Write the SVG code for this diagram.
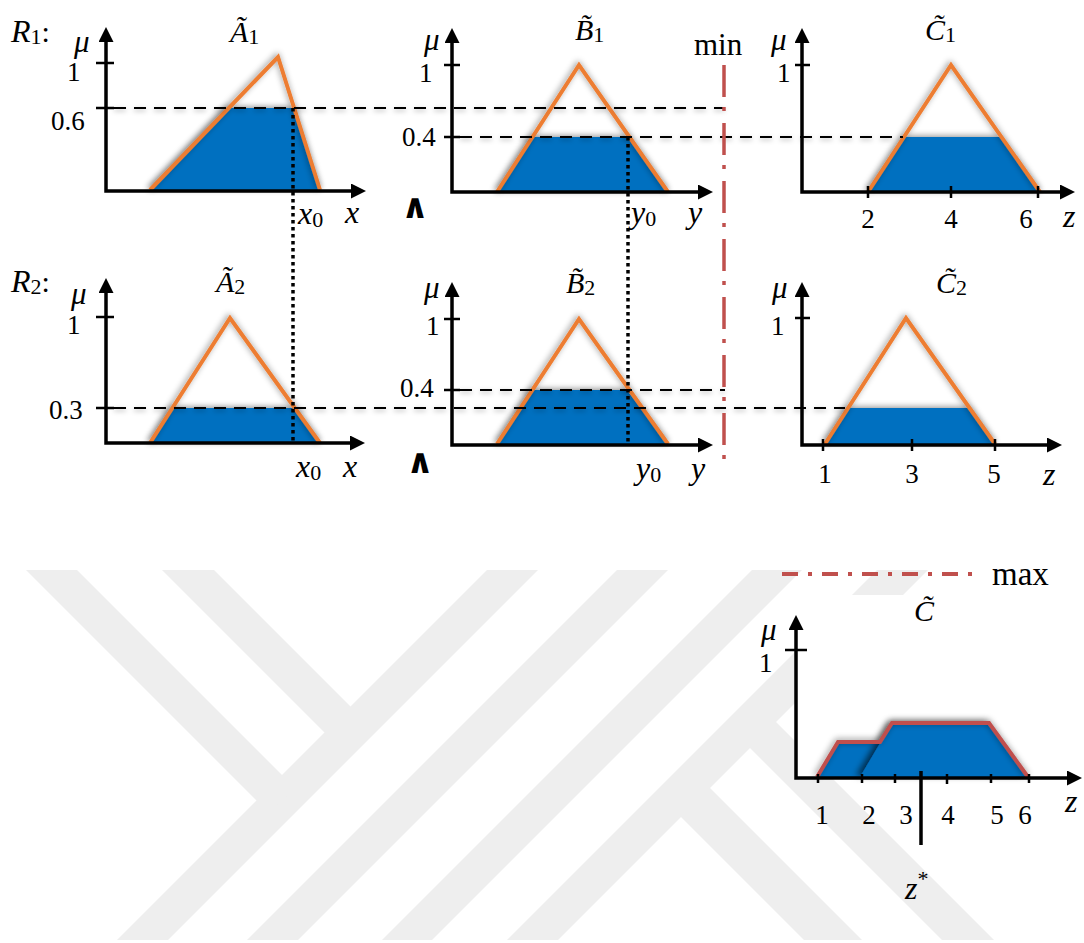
<svg xmlns="http://www.w3.org/2000/svg" width="1084" height="943" viewBox="0 0 1084 943">
<defs>
<style>
svg{font-family:"Liberation Serif",serif;font-size:27px}
text{fill:#000}
.it{font-style:italic}
.mu{font-style:italic;font-size:31px}
.var{font-style:italic;font-size:32px}
.sub{font-size:22px;font-style:normal}
.ax{stroke:#000;stroke-width:3.5;fill:none;stroke-linejoin:miter}
.tk{stroke:#000;stroke-width:2.5;fill:none}
.tri{stroke:#ED7D31;stroke-width:4;fill:none;stroke-linejoin:miter}
.bl{fill:#0070C0}
.dash{stroke:#000;stroke-width:2.2;stroke-dasharray:12 8;fill:none}
.dot{stroke:#000;stroke-width:3.5;stroke-dasharray:3.5 3.5;fill:none}
.min{stroke:#C0504D;stroke-width:3.5;stroke-dasharray:32 10 4 12;fill:none}
.max{stroke:#C0504D;stroke-width:4;stroke-dasharray:16 10 4 10;fill:none}
.wm{fill:#eeeeee}
.and{font-family:"DejaVu Sans",sans-serif;font-weight:bold;font-size:34px}
</style>
<marker id="ah" viewBox="0 0 15 15" refX="1" refY="7.5" markerWidth="15" markerHeight="15" markerUnits="userSpaceOnUse" orient="auto-start-reverse">
<path d="M0,0 L15,7.5 L0,15 z" fill="#000"/>
</marker>
<filter id="sh" filterUnits="userSpaceOnUse" x="0" y="0" width="1084" height="943">
<feGaussianBlur in="SourceAlpha" stdDeviation="3"/>
<feOffset dx="-1" dy="-1.5" result="b"/>
<feFlood flood-color="#000" flood-opacity="0.45"/>
<feComposite in2="b" operator="in"/>
<feMerge><feMergeNode/><feMergeNode in="SourceGraphic"/></feMerge>
</filter>
<filter id="sh2" filterUnits="userSpaceOnUse" x="0" y="0" width="1084" height="943">
<feGaussianBlur in="SourceAlpha" stdDeviation="2.5"/>
<feOffset dx="0" dy="2" result="b"/>
<feFlood flood-color="#000" flood-opacity="0.3"/>
<feComposite in2="b" operator="in"/>
<feMerge><feMergeNode/><feMergeNode in="SourceGraphic"/></feMerge>
</filter>
<filter id="sh3" filterUnits="userSpaceOnUse" x="0" y="0" width="1084" height="943">
<feGaussianBlur in="SourceAlpha" stdDeviation="3"/>
<feOffset dx="-4" dy="-1" result="b"/>
<feFlood flood-color="#000" flood-opacity="0.6"/>
<feComposite in2="b" operator="in"/>
<feMerge><feMergeNode/><feMergeNode in="SourceGraphic"/></feMerge>
</filter>
</defs>
<rect width="1084" height="943" fill="#fff"/>
<g id="watermark">
<polygon class="wm" points="487,570 538,570 168,940 117,940"/>
<polygon class="wm" points="617,570 668,570 298,940 247,940"/>
<polygon class="wm" points="752,570 802,570 432,940 382,940"/>
<polygon class="wm" points="877,570 928,570 558,940 507,940"/>
<polygon class="wm" points="26,570 77,570 295,788 269,813"/>
<polygon class="wm" points="162,570 214,570 363,719 337,745"/>
<polygon class="wm" points="697,775 862,940 804,940 668,804"/>
<polygon class="wm" points="763,709 994,940 942,940 737,735"/>
<rect x="796" y="595" width="288" height="183" fill="#fff"/>
</g>

<g id="rule-labels">
<text x="11" y="42"><tspan class="it" font-size="32">R</tspan><tspan font-size="22" dy="2">1</tspan><tspan font-size="30" dy="-2">:</tspan></text>
<text x="11" y="292"><tspan class="it" font-size="32">R</tspan><tspan font-size="22" dy="2">2</tspan><tspan font-size="30" dy="-2">:</tspan></text>
</g>

<g id="A1">
<polygon class="bl" filter="url(#sh)" points="150,190 227,108 294,108 320,190"/>
<polyline class="tri" filter="url(#sh)" points="150,190 278,57 320,190"/>
<path class="ax" d="M106,41 V191 H352" marker-start="url(#ah)" marker-end="url(#ah)"/>
<path class="tk" d="M96,63 H114 M96,108 H114"/>
<text class="mu" x="74" y="52">μ</text>
<text x="67" y="81">1</text>
<text x="51" y="130">0.6</text>
<text x="230" y="42"><tspan class="it" font-size="30">Ã</tspan><tspan class="sub" dy="2">1</tspan></text>
<text x="298" y="224"><tspan class="var">x</tspan><tspan class="sub" dy="3">0</tspan></text>
<text class="var" x="345" y="223">x</text>
</g>

<g id="B1">
<polygon class="bl" filter="url(#sh)" points="497,192 532,137 628,137 668,192"/>
<polyline class="tri" filter="url(#sh)" points="497,192 579,65 668,192"/>
<path class="ax" d="M452,42 V192 H699" marker-start="url(#ah)" marker-end="url(#ah)"/>
<path class="tk" d="M444,65 H460 M444,137 H460"/>
<text class="mu" x="424" y="50">μ</text>
<text x="419" y="82">1</text>
<text x="402" y="146">0.4</text>
<text x="575" y="40"><tspan class="it" font-size="30">B&#x303;</tspan><tspan class="sub" dy="2">1</tspan></text>
<text class="and" x="415" y="218" text-anchor="middle">∧</text>
<text x="631" y="223"><tspan class="var">y</tspan><tspan class="sub" dy="3">0</tspan></text>
<text class="var" x="688" y="223">y</text>
</g>

<g id="C1">
<polygon class="bl" filter="url(#sh)" points="868,192 905,137 1000,137 1040,192"/>
<polyline class="tri" filter="url(#sh)" points="868,192 951,65 1040,192"/>
<path class="ax" d="M802,42 V192 H1061" marker-start="url(#ah)" marker-end="url(#ah)"/>
<path class="tk" d="M795,65 H810 M868,186 V198 M951,186 V198 M1038,186 V198"/>
<text class="mu" x="771" y="50">μ</text>
<text x="777" y="82">1</text>
<text x="925" y="40"><tspan class="it" font-size="30">C&#x303;</tspan><tspan class="sub" dy="2">1</tspan></text>
<text x="868" y="228" text-anchor="middle">2</text>
<text x="951" y="228" text-anchor="middle">4</text>
<text x="1026" y="228" text-anchor="middle">6</text>
<text class="var" x="1063" y="227">z</text>
</g>

<g id="A2">
<polygon class="bl" filter="url(#sh)" points="150,443 171,408 294,408 320,443"/>
<polyline class="tri" filter="url(#sh)" points="150,443 230,318 320,443"/>
<path class="ax" d="M106,292 V443 H351" marker-start="url(#ah)" marker-end="url(#ah)"/>
<path class="tk" d="M96,317 H114 M96,408 H114"/>
<text class="mu" x="71" y="304">μ</text>
<text x="67" y="334">1</text>
<text x="49" y="419">0.3</text>
<text x="216" y="292"><tspan class="it" font-size="30">Ã</tspan><tspan class="sub" dy="2">2</tspan></text>
<text x="296" y="477"><tspan class="var">x</tspan><tspan class="sub" dy="3">0</tspan></text>
<text class="var" x="343" y="477">x</text>
</g>

<g id="B2">
<polygon class="bl" filter="url(#sh)" points="497,444 532,390 627,390 668,444"/>
<polyline class="tri" filter="url(#sh)" points="497,444 579,319 668,444"/>
<path class="ax" d="M452,296 V445 H699" marker-start="url(#ah)" marker-end="url(#ah)"/>
<path class="tk" d="M444,319 H460 M444,390 H460"/>
<text class="mu" x="424" y="298">μ</text>
<text x="426" y="335">1</text>
<text x="400" y="397">0.4</text>
<text x="566" y="293"><tspan class="it" font-size="30">B&#x303;</tspan><tspan class="sub" dy="2">2</tspan></text>
<text class="and" x="420" y="473" text-anchor="middle">∧</text>
<text x="636" y="479"><tspan class="var">y</tspan><tspan class="sub" dy="3">0</tspan></text>
<text class="var" x="691" y="479">y</text>
</g>

<g id="C2">
<polygon class="bl" filter="url(#sh)" points="825,444 848,408 970,408 995,444"/>
<polyline class="tri" filter="url(#sh)" points="825,444 906,318 995,444"/>
<path class="ax" d="M802,296 V445 H1048" marker-start="url(#ah)" marker-end="url(#ah)"/>
<path class="tk" d="M795,318 H810 M823,439 V451 M912,439 V451 M995,439 V451"/>
<text class="mu" x="772" y="298">μ</text>
<text x="771" y="335">1</text>
<text x="936" y="293"><tspan class="it" font-size="30">C&#x303;</tspan><tspan class="sub" dy="2">2</tspan></text>
<text x="825" y="483" text-anchor="middle">1</text>
<text x="912" y="483" text-anchor="middle">3</text>
<text x="994" y="483" text-anchor="middle">5</text>
<text class="var" x="1043" y="485">z</text>
</g>

<g id="C-result">
<polygon class="bl" points="817,777 838,742 900,742 900,777"/>
<polygon class="bl" filter="url(#sh3)" points="860,777 892,723 989,723 1028,777"/>
<polyline filter="url(#sh)" points="817,777 838,742 880,742 892,723 989,723 1028,777" fill="none" stroke="#C0504D" stroke-width="4"/>
<path class="ax" d="M796,629 V778 H1068" marker-start="url(#ah)" marker-end="url(#ah)"/>
<path class="tk" d="M785,650 H807 M818,774 V783 M862,774 V783 M895,774 V783 M947,774 V784 M991,774 V783 M1029,774 V783"/>
<path d="M921,771 V845" stroke="#000" stroke-width="3.5"/>
<text class="mu" x="761" y="640">μ</text>
<text x="759" y="672">1</text>
<text x="914" y="621" class="it" font-size="30">C&#x303;</text>
<text x="822" y="824" text-anchor="middle">1</text>
<text x="869" y="824" text-anchor="middle">2</text>
<text x="906" y="824" text-anchor="middle">3</text>
<text x="948" y="824" text-anchor="middle">4</text>
<text x="997" y="824" text-anchor="middle">5</text>
<text x="1025" y="824" text-anchor="middle">6</text>
<text class="var" x="1065" y="812">z</text>
<text x="905" y="899"><tspan class="var">z</tspan><tspan font-size="22" dy="-13">*</tspan></text>
</g>

<g id="connectors">
<path class="dash" filter="url(#sh2)" d="M114,108 H725"/>
<path class="dash" filter="url(#sh2)" d="M460,137 H903"/>
<path class="dash" filter="url(#sh2)" d="M460,390 H725"/>
<path class="dash" filter="url(#sh2)" d="M114,408 H845"/>
<path class="dot" d="M293,108 V443"/>
<path class="dot" d="M628,137 V445"/>
<path class="min" d="M724,65 V460"/>
<path class="max" d="M782,574 H973"/>
<text x="694" y="55" font-size="31">min</text>
<text x="992" y="585" font-size="33">max</text>
</g>
</svg>
